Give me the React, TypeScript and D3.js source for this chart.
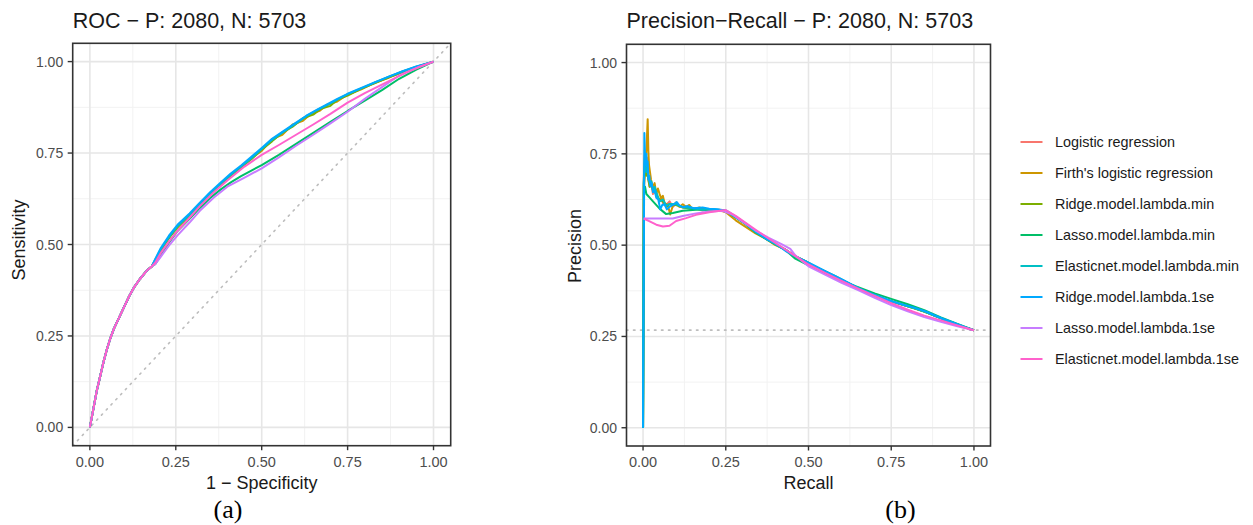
import { useEffect, useRef } from "react";
import * as d3 from "d3";

type Pt = [number, number];

const seriesNames = [
  "Logistic regression",
  "Firth's logistic regression",
  "Ridge.model.lambda.min",
  "Lasso.model.lambda.min",
  "Elasticnet.model.lambda.min",
  "Ridge.model.lambda.1se",
  "Lasso.model.lambda.1se",
  "Elasticnet.model.lambda.1se",
];
const seriesColors = ["#F8766D", "#CD9600", "#7CAE00", "#00BE67", "#00BFC4", "#00A9FF", "#C77CFF", "#FF61CC"];
const tickValues = [0, 0.25, 0.5, 0.75, 1];
const tickLabels = ["0.00", "0.25", "0.50", "0.75", "1.00"];
const positives = 2080;
const negatives = 5703;

// ROC curves (1 - specificity, sensitivity); the first stretch is shared by all models
const rocEarly: Pt[] = [[0,0],[0.01,0.05],[0.02,0.1],[0.03,0.14],[0.04,0.18],[0.05,0.215],[0.06,0.245],[0.07,0.27],[0.085,0.3],[0.1,0.33],[0.115,0.36],[0.13,0.385],[0.145,0.405],[0.165,0.428],[0.18,0.44]];
const rocLogistic: Pt[] = [...rocEarly, [0.19,0.456],[0.205,0.482],[0.23,0.518],[0.255,0.548],[0.29,0.58],[0.32,0.61],[0.35,0.638],[0.38,0.665],[0.41,0.69],[0.44,0.712],[0.47,0.735],[0.50,0.758],[0.53,0.784],[0.56,0.805],[0.60,0.83],[0.63,0.849],[0.66,0.866],[0.69,0.88],[0.72,0.895],[0.75,0.909],[0.79,0.926],[0.83,0.942],[0.87,0.958],[0.91,0.972],[0.95,0.986],[1,1]];
const rocFirth: Pt[] = [...rocEarly, [0.19,0.458],[0.205,0.48],[0.23,0.52],[0.255,0.546],[0.29,0.582],[0.32,0.607],[0.35,0.641],[0.38,0.662],[0.41,0.692],[0.44,0.708],[0.47,0.737],[0.50,0.756],[0.53,0.788],[0.56,0.8],[0.59,0.828],[0.62,0.838],[0.64,0.855],[0.67,0.866],[0.69,0.882],[0.72,0.891],[0.75,0.91],[0.79,0.924],[0.83,0.943],[0.87,0.956],[0.91,0.973],[0.95,0.985],[1,1]];
const rocRidgeMin: Pt[] = [...rocEarly, [0.19,0.455],[0.205,0.484],[0.23,0.517],[0.255,0.549],[0.29,0.578],[0.32,0.61],[0.35,0.637],[0.38,0.665],[0.41,0.688],[0.44,0.711],[0.47,0.733],[0.50,0.76],[0.53,0.782],[0.56,0.806],[0.59,0.822],[0.62,0.845],[0.65,0.855],[0.67,0.87],[0.70,0.879],[0.72,0.896],[0.75,0.907],[0.79,0.926],[0.83,0.941],[0.87,0.957],[0.91,0.971],[0.95,0.985],[1,1]];
const rocLassoMin: Pt[] = [...rocEarly, [0.19,0.446],[0.205,0.468],[0.23,0.505],[0.255,0.537],[0.29,0.57],[0.32,0.6],[0.35,0.627],[0.38,0.65],[0.41,0.67],[0.44,0.687],[0.47,0.702],[0.50,0.717],[0.55,0.745],[0.60,0.775],[0.65,0.805],[0.70,0.835],[0.75,0.865],[0.80,0.893],[0.85,0.922],[0.90,0.953],[0.95,0.978],[1,1]];
const rocElasticMin: Pt[] = [...rocEarly, [0.19,0.457],[0.205,0.485],[0.23,0.52],[0.255,0.55],[0.29,0.581],[0.32,0.611],[0.35,0.64],[0.38,0.666],[0.41,0.691],[0.44,0.713],[0.47,0.736],[0.50,0.761],[0.53,0.786],[0.56,0.806],[0.60,0.831],[0.63,0.851],[0.66,0.867],[0.69,0.881],[0.72,0.896],[0.75,0.911],[0.79,0.927],[0.83,0.943],[0.87,0.959],[0.91,0.973],[0.95,0.986],[1,1]];
const rocRidge1se: Pt[] = [...rocEarly, [0.19,0.46],[0.205,0.488],[0.23,0.524],[0.255,0.554],[0.29,0.585],[0.32,0.614],[0.35,0.643],[0.38,0.669],[0.41,0.694],[0.44,0.716],[0.47,0.74],[0.50,0.764],[0.53,0.789],[0.56,0.808],[0.60,0.833],[0.63,0.852],[0.66,0.868],[0.69,0.883],[0.72,0.898],[0.75,0.912],[0.79,0.928],[0.83,0.944],[0.87,0.959],[0.91,0.974],[0.95,0.987],[1,1]];
const rocLasso1se: Pt[] = [...rocEarly, [0.19,0.446],[0.205,0.465],[0.23,0.497],[0.255,0.525],[0.29,0.56],[0.32,0.592],[0.36,0.628],[0.40,0.658],[0.45,0.683],[0.50,0.708],[0.55,0.738],[0.60,0.77],[0.65,0.8],[0.70,0.831],[0.75,0.863],[0.80,0.898],[0.85,0.93],[0.90,0.962],[0.95,0.982],[1,1]];
const rocElastic1se: Pt[] = [...rocEarly, [0.19,0.45],[0.205,0.475],[0.23,0.508],[0.255,0.537],[0.29,0.573],[0.32,0.605],[0.36,0.642],[0.40,0.675],[0.45,0.713],[0.50,0.745],[0.55,0.772],[0.60,0.8],[0.65,0.828],[0.70,0.857],[0.75,0.888],[0.80,0.914],[0.86,0.942],[0.92,0.97],[0.96,0.986],[1,1]];

// Precision-recall curves (recall, precision); the tail is shared by the unpenalised and ridge-like models
const prTail: Pt[] = [[0.28,0.576],[0.31,0.558],[0.34,0.536],[0.37,0.519],[0.40,0.503],[0.43,0.488],[0.46,0.469],[0.49,0.456],[0.52,0.441],[0.55,0.428],[0.58,0.415],[0.61,0.401],[0.64,0.387],[0.67,0.374],[0.70,0.362],[0.73,0.352],[0.76,0.344],[0.79,0.335],[0.82,0.327],[0.85,0.318],[0.88,0.307],[0.91,0.296],[0.94,0.286],[0.97,0.276],[1,0.267]];
const prLogistic: Pt[] = [[0,0],[0.002,0.67],[0.005,0.76],[0.008,0.70],[0.012,0.74],[0.016,0.68],[0.02,0.66],[0.025,0.67],[0.03,0.64],[0.035,0.655],[0.04,0.635],[0.05,0.62],[0.055,0.632],[0.06,0.615],[0.07,0.61],[0.08,0.62],[0.09,0.605],[0.10,0.612],[0.12,0.604],[0.14,0.60],[0.16,0.601],[0.18,0.595],[0.20,0.598],[0.22,0.595],[0.25,0.592], ...prTail];
const prFirth: Pt[] = [[0,0],[0.003,0.66],[0.008,0.72],[0.012,0.80],[0.014,0.845],[0.016,0.76],[0.018,0.72],[0.021,0.7],[0.024,0.68],[0.027,0.665],[0.03,0.66],[0.035,0.67],[0.04,0.64],[0.045,0.655],[0.05,0.64],[0.055,0.628],[0.06,0.635],[0.065,0.615],[0.075,0.61],[0.082,0.584],[0.09,0.608],[0.10,0.617],[0.11,0.605],[0.12,0.612],[0.13,0.605],[0.14,0.61],[0.15,0.598],[0.17,0.603],[0.20,0.594],[0.23,0.597],[0.25,0.59],[0.28,0.568],[0.31,0.55],[0.34,0.532],[0.37,0.518],[0.40,0.50],[0.43,0.488],[0.46,0.47],[0.49,0.456],[0.52,0.441],[0.55,0.428],[0.58,0.414],[0.61,0.401],[0.64,0.387],[0.67,0.374],[0.70,0.362],[0.73,0.352],[0.76,0.343],[0.79,0.335],[0.82,0.327],[0.85,0.318],[0.88,0.307],[0.91,0.296],[0.94,0.286],[0.97,0.276],[1,0.267]];
const prRidgeMin: Pt[] = [[0,0],[0.002,0.66],[0.006,0.74],[0.01,0.69],[0.013,0.71],[0.016,0.68],[0.02,0.66],[0.025,0.665],[0.03,0.65],[0.035,0.645],[0.04,0.64],[0.045,0.63],[0.05,0.625],[0.06,0.62],[0.07,0.605],[0.08,0.612],[0.10,0.61],[0.12,0.603],[0.15,0.60],[0.18,0.597],[0.21,0.597],[0.25,0.593], ...prTail];
const prLassoMin: Pt[] = [[0,0],[0.003,0.65],[0.006,0.66],[0.01,0.64],[0.02,0.63],[0.03,0.62],[0.05,0.60],[0.07,0.585],[0.09,0.588],[0.12,0.594],[0.16,0.597],[0.20,0.598],[0.25,0.594],[0.28,0.577],[0.31,0.558],[0.34,0.535],[0.37,0.518],[0.40,0.502],[0.43,0.487],[0.46,0.463],[0.50,0.445],[0.55,0.422],[0.60,0.402],[0.65,0.385],[0.70,0.368],[0.75,0.353],[0.80,0.338],[0.85,0.322],[0.90,0.302],[0.95,0.284],[1,0.267]];
const prElasticMin: Pt[] = [[0,0],[0.002,0.67],[0.006,0.75],[0.01,0.70],[0.013,0.72],[0.016,0.69],[0.02,0.67],[0.025,0.675],[0.03,0.65],[0.035,0.66],[0.04,0.645],[0.05,0.62],[0.06,0.625],[0.07,0.608],[0.08,0.613],[0.10,0.612],[0.12,0.604],[0.15,0.601],[0.18,0.597],[0.21,0.598],[0.25,0.594], ...prTail];
const prRidge1se: Pt[] = [[0,0],[0.004,0.807],[0.006,0.74],[0.008,0.72],[0.01,0.75],[0.012,0.716],[0.014,0.73],[0.016,0.68],[0.019,0.69],[0.022,0.662],[0.026,0.67],[0.03,0.645],[0.035,0.65],[0.04,0.63],[0.046,0.625],[0.052,0.598],[0.058,0.61],[0.065,0.612],[0.072,0.598],[0.08,0.605],[0.09,0.61],[0.102,0.618],[0.11,0.608],[0.12,0.604],[0.135,0.607],[0.153,0.601],[0.18,0.603],[0.20,0.60],[0.225,0.598],[0.253,0.594],[0.28,0.578],[0.313,0.558],[0.34,0.538],[0.374,0.516],[0.40,0.505],[0.434,0.482],[0.46,0.47],[0.494,0.455],[0.52,0.443],[0.555,0.427],[0.58,0.416],[0.61,0.402],[0.655,0.38],[0.70,0.364],[0.73,0.354],[0.756,0.345],[0.79,0.336],[0.82,0.329],[0.856,0.318],[0.88,0.308],[0.91,0.297],[0.94,0.287],[0.97,0.277],[1,0.267]];
const prLasso1se: Pt[] = [[0.002,0.573],[0.05,0.573],[0.09,0.573],[0.12,0.58],[0.16,0.587],[0.20,0.592],[0.24,0.594],[0.27,0.584],[0.30,0.565],[0.34,0.54],[0.38,0.52],[0.42,0.502],[0.445,0.49],[0.46,0.472],[0.50,0.442],[0.55,0.419],[0.60,0.397],[0.65,0.377],[0.70,0.356],[0.75,0.336],[0.80,0.319],[0.85,0.303],[0.90,0.29],[0.95,0.278],[1,0.267]];
const prElastic1se: Pt[] = [[0.002,0.573],[0.02,0.565],[0.04,0.556],[0.06,0.551],[0.08,0.553],[0.10,0.566],[0.13,0.574],[0.16,0.583],[0.20,0.59],[0.25,0.596],[0.28,0.58],[0.31,0.561],[0.35,0.536],[0.40,0.506],[0.45,0.476],[0.50,0.447],[0.55,0.424],[0.60,0.402],[0.65,0.381],[0.70,0.361],[0.75,0.341],[0.80,0.323],[0.85,0.307],[0.90,0.294],[0.95,0.28],[1,0.267]];

const rocSeries = [rocLogistic, rocFirth, rocRidgeMin, rocLassoMin, rocElasticMin, rocRidge1se, rocLasso1se, rocElastic1se];
const prSeries = [prLogistic, prFirth, prRidgeMin, prLassoMin, prElasticMin, prRidge1se, prLasso1se, prElastic1se];

const FONT = "Liberation Sans, Arial, Helvetica, sans-serif";

const App = () => {
  const svgRef = useRef<SVGSVGElement>(null);

  useEffect(() => {
    const svg = d3.select(svgRef.current);
    svg.selectAll("*").remove();
    svg.append("rect").attr("width", 1253).attr("height", 525).attr("fill", "#fff");

    const drawPanel = (
      box: { left: number; right: number; top: number; bottom: number },
      series: Pt[][],
      title: string,
      xTitle: string,
      yTitle: string,
      yTitlePos: [number, number],
      ref: "diag" | "hline",
      tag: string,
      tagX: number,
    ) => {
      const x = d3.scaleLinear().domain([-0.05, 1.05]).range([box.left, box.right]);
      const y = d3.scaleLinear().domain([-0.05, 1.05]).range([box.bottom, box.top]);
      const g = svg.append("g");

      // grid
      const minor = [0.125, 0.375, 0.625, 0.875];
      minor.forEach(v => {
        g.append("line").attr("x1", x(v)).attr("x2", x(v)).attr("y1", box.top).attr("y2", box.bottom)
          .attr("stroke", "#F2F2F2").attr("stroke-width", 1);
        g.append("line").attr("y1", y(v)).attr("y2", y(v)).attr("x1", box.left).attr("x2", box.right)
          .attr("stroke", "#F2F2F2").attr("stroke-width", 1);
      });
      tickValues.forEach(v => {
        g.append("line").attr("x1", x(v)).attr("x2", x(v)).attr("y1", box.top).attr("y2", box.bottom)
          .attr("stroke", "#E6E6E6").attr("stroke-width", 1.6);
        g.append("line").attr("y1", y(v)).attr("y2", y(v)).attr("x1", box.left).attr("x2", box.right)
          .attr("stroke", "#E6E6E6").attr("stroke-width", 1.6);
      });

      // reference line
      const baseRate = positives / (positives + negatives);
      const refLine = ref === "diag"
        ? [[-0.05, -0.05], [1.05, 1.05]]
        : [[-0.05, baseRate], [1.05, baseRate]];
      g.append("line")
        .attr("x1", x(refLine[0][0])).attr("y1", y(refLine[0][1]))
        .attr("x2", x(refLine[1][0])).attr("y2", y(refLine[1][1]))
        .attr("stroke", "#BDBDBD").attr("stroke-width", 1.6)
        .attr("stroke-dasharray", "1.5,5.5").attr("stroke-linecap", "round");

      const line = d3.line<Pt>().x(d => x(d[0])).y(d => y(d[1])).curve(d3.curveLinear);
      series.forEach((s, i) => {
        g.append("path").datum(s)
          .attr("fill", "none")
          .attr("stroke", seriesColors[i])
          .attr("stroke-width", 2)
          .attr("stroke-linejoin", "round")
          .attr("d", line);
      });

      // border
      g.append("rect").attr("x", box.left).attr("y", box.top)
        .attr("width", box.right - box.left).attr("height", box.bottom - box.top)
        .attr("fill", "none").attr("stroke", "#333").attr("stroke-width", 1.6);

      // ticks and labels
      tickValues.forEach((v, i) => {
        g.append("line").attr("x1", x(v)).attr("x2", x(v)).attr("y1", box.bottom).attr("y2", box.bottom + 4.5)
          .attr("stroke", "#333").attr("stroke-width", 1.4);
        g.append("text").attr("x", x(v)).attr("y", 467)
          .attr("text-anchor", "middle").attr("font-family", FONT).attr("font-size", 14.5)
          .attr("fill", "#4D4D4D").text(tickLabels[i]);
        g.append("line").attr("x1", box.left - 5).attr("x2", box.left).attr("y1", y(v)).attr("y2", y(v))
          .attr("stroke", "#333").attr("stroke-width", 1.4);
        g.append("text").attr("x", box.left - 9.5).attr("y", y(v)).attr("dy", "0.36em")
          .attr("text-anchor", "end").attr("font-family", FONT).attr("font-size", 14)
          .attr("fill", "#4D4D4D").text(tickLabels[i]);
      });

      g.append("text").attr("x", box.left).attr("y", 28)
        .attr("font-family", FONT).attr("font-size", 21.5).attr("fill", "#1A1A1A").text(title);
      g.append("text").attr("x", (box.left + box.right) / 2).attr("y", 488.5)
        .attr("text-anchor", "middle").attr("font-family", FONT).attr("font-size", 18)
        .attr("fill", "#1A1A1A").text(xTitle);
      g.append("text")
        .attr("transform", `translate(${yTitlePos[0]},${yTitlePos[1]}) rotate(-90)`)
        .attr("text-anchor", "middle").attr("font-family", FONT).attr("font-size", 18)
        .attr("fill", "#1A1A1A").text(yTitle);
      g.append("text").attr("x", tagX).attr("y", 518)
        .attr("text-anchor", "middle").attr("font-family", "Liberation Serif, Times New Roman, serif")
        .attr("font-size", 26).attr("fill", "#000").text(tag);
    };

    drawPanel({ left: 72.7, right: 450.7, top: 43.3, bottom: 445.7 }, rocSeries,
      `ROC \u2212 P: ${positives}, N: ${negatives}`, "1 \u2212 Specificity", "Sensitivity", [25, 240],
      "diag", "(a)", 228);
    drawPanel({ left: 626.5, right: 990.5, top: 44.3, bottom: 446 }, prSeries,
      `Precision\u2212Recall \u2212 P: ${positives}, N: ${negatives}`, "Recall", "Precision", [581, 246],
      "hline", "(b)", 900.5);

    // legend
    const legend = svg.append("g");
    seriesNames.forEach((name, i) => {
      const yy = 142 + i * 31;
      legend.append("line").attr("x1", 1020.5).attr("x2", 1042.5).attr("y1", yy).attr("y2", yy)
        .attr("stroke", seriesColors[i]).attr("stroke-width", 2);
      legend.append("text").attr("x", 1055).attr("y", yy).attr("dy", "0.36em")
        .attr("font-family", FONT).attr("font-size", 14.4).attr("fill", "#1A1A1A").text(name);
    });
  }, []);

  return (
    <svg ref={svgRef} width={1253} height={525}
      style={{ position: "absolute", left: 0, top: 0, display: "block" }} />
  );
};

export default App;
